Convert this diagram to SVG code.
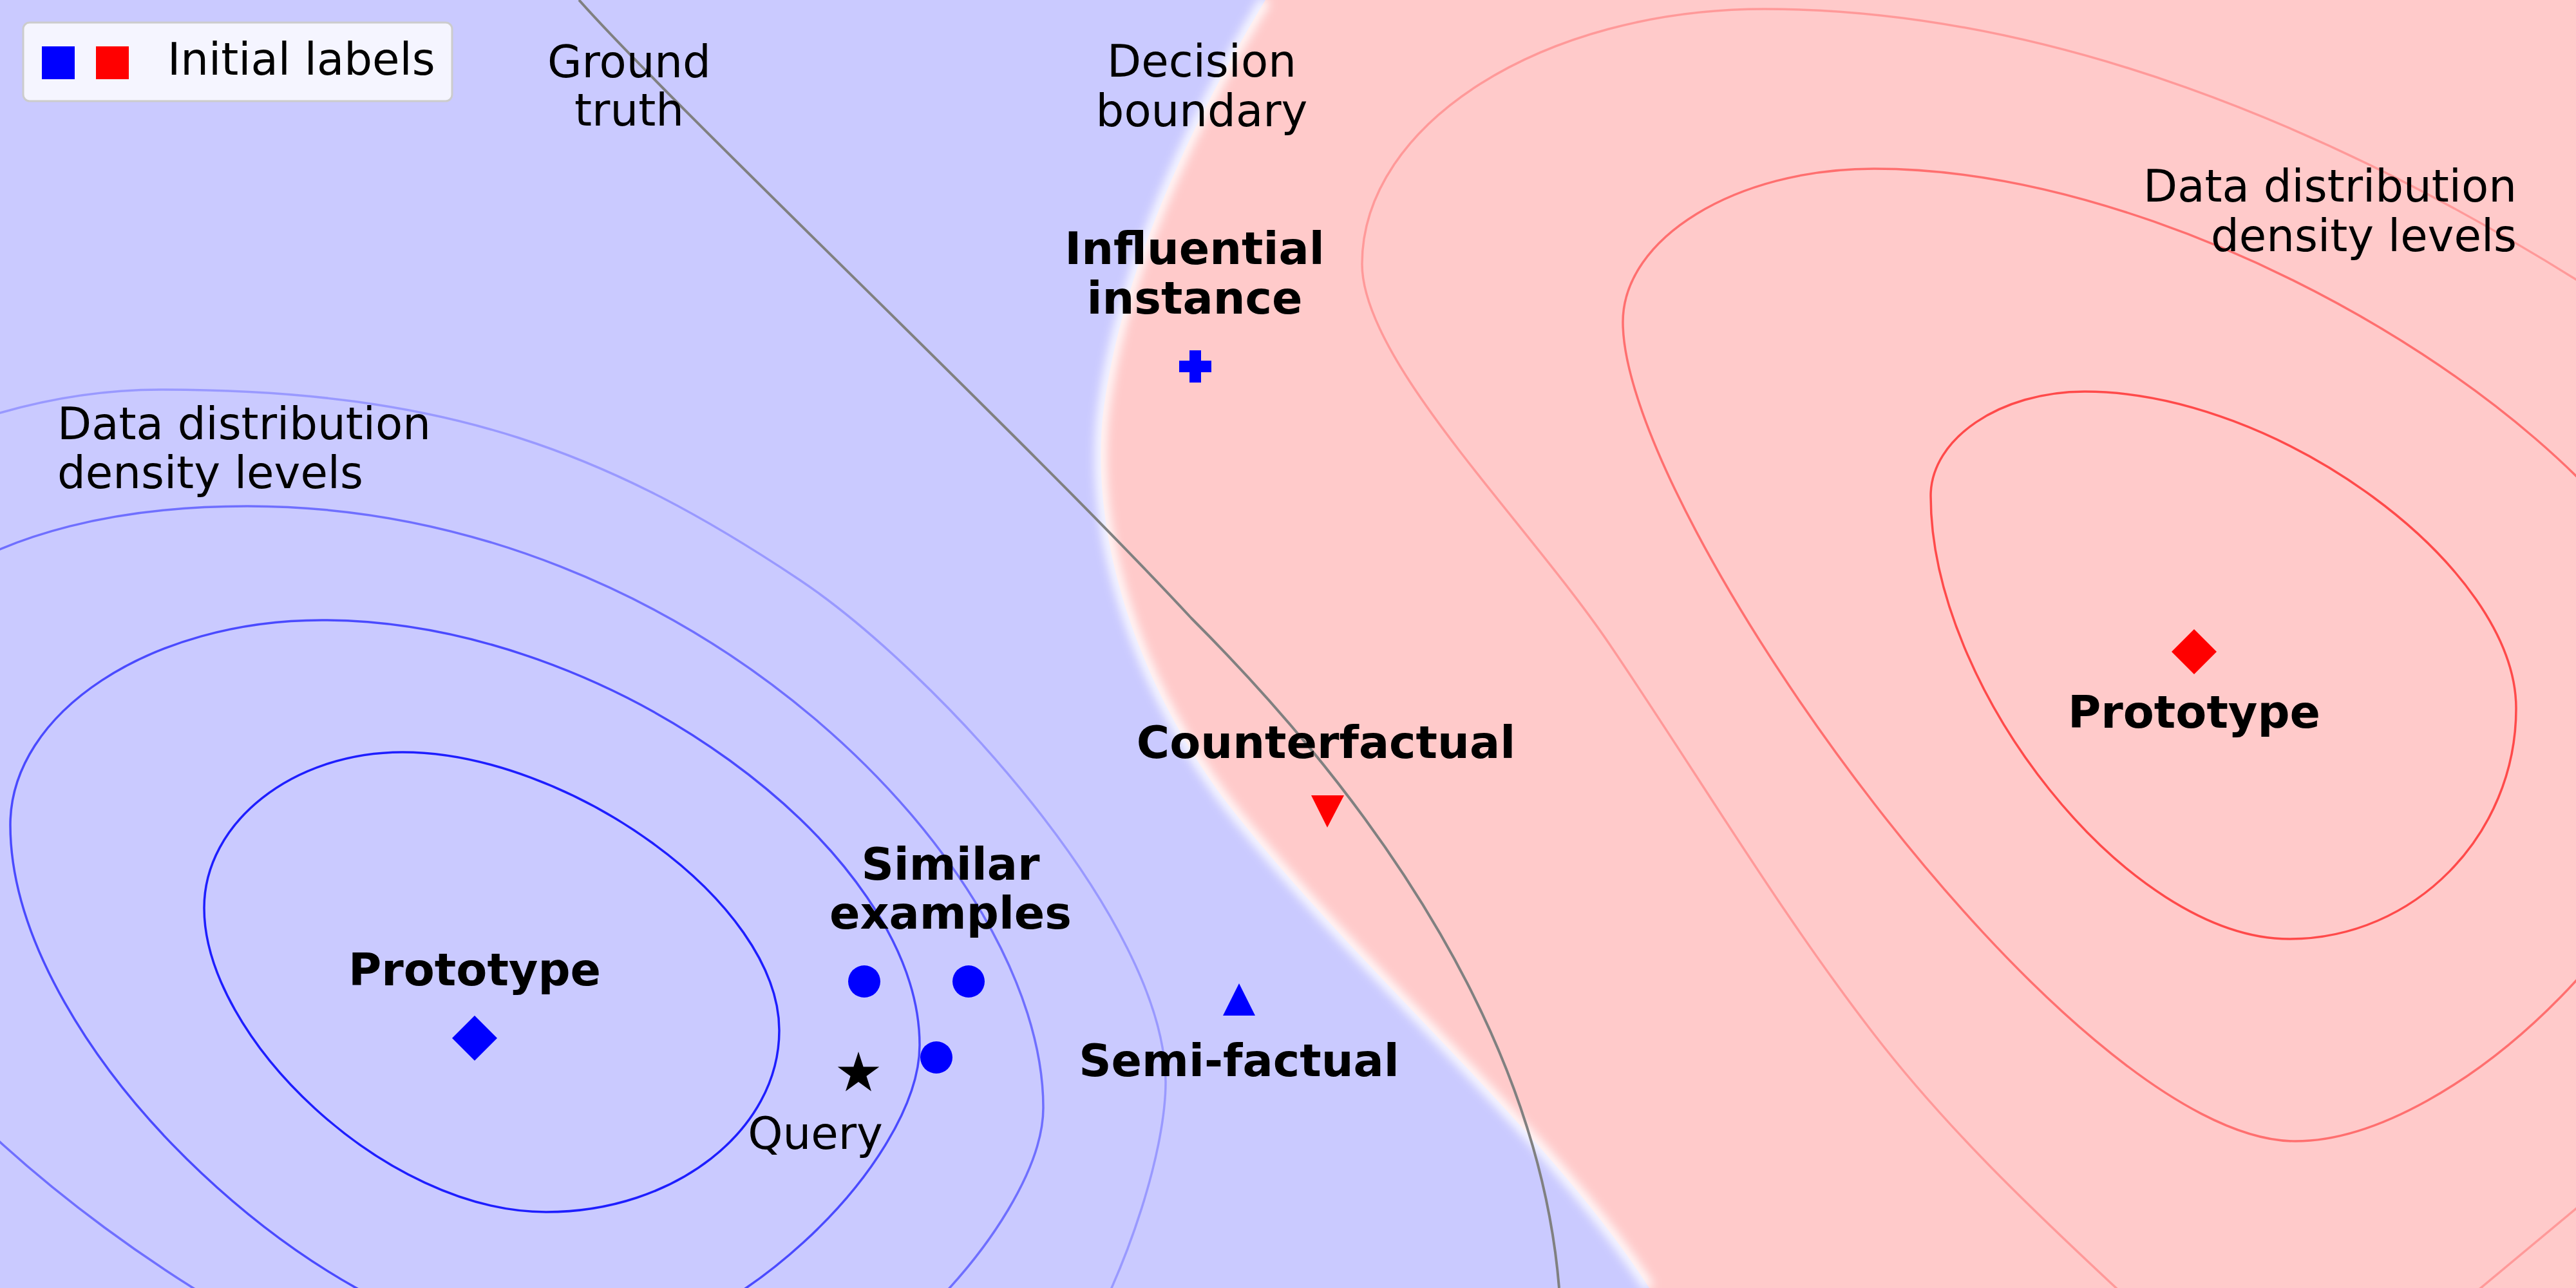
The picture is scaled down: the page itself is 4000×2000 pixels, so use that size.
<svg xmlns="http://www.w3.org/2000/svg" width="4000" height="2000" viewBox="0 0 4000 2000">
<defs>
<filter id="soft" x="-10%" y="-10%" width="120%" height="120%"><feGaussianBlur stdDeviation="8"/></filter>
<style>
text{font-family:"DejaVu Sans","Liberation Sans",sans-serif;fill:#000}
.t{font-size:69px;text-anchor:middle}
.b{font-size:70px;font-weight:bold;text-anchor:middle}
.d{font-size:69px}
.c{fill:none;stroke-width:3.5}
.cb{stroke:#0000ff}
.cr{stroke:#ff0000}
</style>
</defs>
<g id="background">
<rect width="4000" height="2000" fill="#cacaff"/>
<path d="M1965,0 L4000,0 L4000,2000 L2561,2000 C2400,1750 2100,1500 1900,1240 C1760,1050 1695,830 1712,650 C1740,400 1880,140 1965,0 Z" fill="#ffcaca"/>
<path d="M1965,0 C1880,140 1740,400 1712,650 C1695,830 1760,1050 1900,1240 C2100,1500 2400,1750 2561,2000" fill="none" stroke="#ffffff" stroke-width="16" filter="url(#soft)"/>
</g>
<g id="density-blue">
<path class="c cb" stroke-opacity="0.85" d="M625,1168 C880,1168 1210,1400 1210,1600 C1210,1755 1048,1882 848,1882 C598,1882 317,1610 317,1410 C317,1277 455,1168 625,1168 Z"/>
<path class="c cb" stroke-opacity="0.63" d="M500,963 C950,963 1428,1323 1428,1623 C1428,1803 1130,2100 880,2100 C520,2100 16,1631 16,1281 C16,1106 234,963 500,963 Z"/>
<path class="c cb" stroke-opacity="0.45" d="M384,786 C1080,786 1620,1350 1620,1720 C1620,1900 1300,2250 1000,2250 C500,2250 -300,1650 -300,1300 C-300,950 -16,786 384,786 Z"/>
<path class="c cb" stroke-opacity="0.24" d="M250,605 C700,605 950,706 1241,900 C1449,1039 1810,1430 1810,1680 C1810,1880 1600,2400 1300,2400 C400,2400 -600,1900 -600,1300 C-600,900 -150,605 250,605 Z"/>
</g>
<g id="density-red">
<path class="c cr" stroke-opacity="0.63" d="M3237,608 C3537,608 3907,880 3907,1100 C3907,1297 3749,1458 3555,1458 C3305,1458 2998,1070 2998,770 C2998,681 3106,608 3237,608 Z"/>
<path class="c cr" stroke-opacity="0.45" d="M2910,262 C2695,262 2520,370 2520,500 C2520,800 3214,1772 3564,1772 C3814,1772 4200,1400 4200,1100 C4200,750 3460,262 2910,262 Z"/>
<path class="c cr" stroke-opacity="0.24" d="M4100,496 L4000,434 C3623,199 3183,14 2740,14 C2396,14 2115,192 2115,410 C2115,560 2367,806 2499,1000 C2636,1202 2761,1413 2910,1606 C3021,1750 3153,1876 3286,2000 L3360,2069"/>
<path class="c cr" stroke-opacity="0.24" d="M3780,2060 Q3900,1960 4080,1810"/>
</g>
<g id="connectors">
<path id="ground-truth-line" d="M899,0 C1050,170 1600,690 1850,960 C2150,1260 2390,1620 2421,2000" fill="none" stroke="#808080" stroke-width="4"/>
</g>
<g id="legend">
<rect x="36" y="35" width="666" height="122" rx="10" fill="#ffffff" fill-opacity="0.8" stroke="#cccccc" stroke-width="3"/>
<rect x="65" y="72" width="51" height="51" fill="#0000ff"/>
<rect x="149" y="72" width="51" height="51" fill="#ff0000"/>
<text x="260" y="116" font-size="69">Initial labels</text>
</g>
<g id="ground-truth-label">
<text class="t" x="977" y="120">Ground</text>
<text class="t" x="977" y="195">truth</text>
</g>
<g id="decision-boundary-label">
<text class="t" x="1866" y="119">Decision</text>
<text class="t" x="1866" y="196">boundary</text>
</g>
<g id="density-label-blue">
<text class="d" x="89" y="682">Data distribution</text>
<text class="d" x="89" y="758">density levels</text>
</g>
<g id="density-label-red">
<text class="d" x="3908" y="313" text-anchor="end">Data distribution</text>
<text class="d" x="3908" y="390" text-anchor="end">density levels</text>
</g>
<g id="influential-instance">
<text class="b" x="1855" y="410">Influential</text>
<text class="b" x="1855" y="487">instance</text>
<polygon points="1847,544 1865,544 1865,560 1881,560 1881,578 1865,578 1865,594 1847,594 1847,578 1831,578 1831,560 1847,560" fill="#0000ff"/>
</g>
<g id="counterfactual">
<text class="b" x="2059" y="1177">Counterfactual</text>
<polygon points="2036,1235 2087,1235 2061,1285" fill="#ff0000"/>
</g>
<g id="similar-examples">
<text class="b" x="1476" y="1366">Similar</text>
<text class="b" x="1476" y="1442">examples</text>
<circle cx="1342" cy="1524" r="25" fill="#0000ff"/>
<circle cx="1504" cy="1524" r="25" fill="#0000ff"/>
<circle cx="1454" cy="1642" r="25" fill="#0000ff"/>
</g>
<g id="semi-factual">
<polygon points="1924,1527 1949,1577 1899,1577" fill="#0000ff"/>
<text class="b" x="1924" y="1671">Semi-factual</text>
</g>
<g id="query">
<polygon points="1333,1633 1340.6,1656.5 1365.3,1656.5 1345.4,1671 1353,1694.5 1333,1680 1313,1694.5 1320.6,1671 1300.7,1656.5 1325.4,1656.5" fill="#000000"/>
<text class="t" x="1266" y="1784">Query</text>
</g>
<g id="prototype-blue">
<text class="b" x="737" y="1530">Prototype</text>
<polygon points="737,1577 772,1612 737,1647 702,1612" fill="#0000ff"/>
</g>
<g id="prototype-red">
<polygon points="3407,977 3442,1012 3407,1047 3372,1012" fill="#ff0000"/>
<text class="b" x="3407" y="1130">Prototype</text>
</g>
</svg>
